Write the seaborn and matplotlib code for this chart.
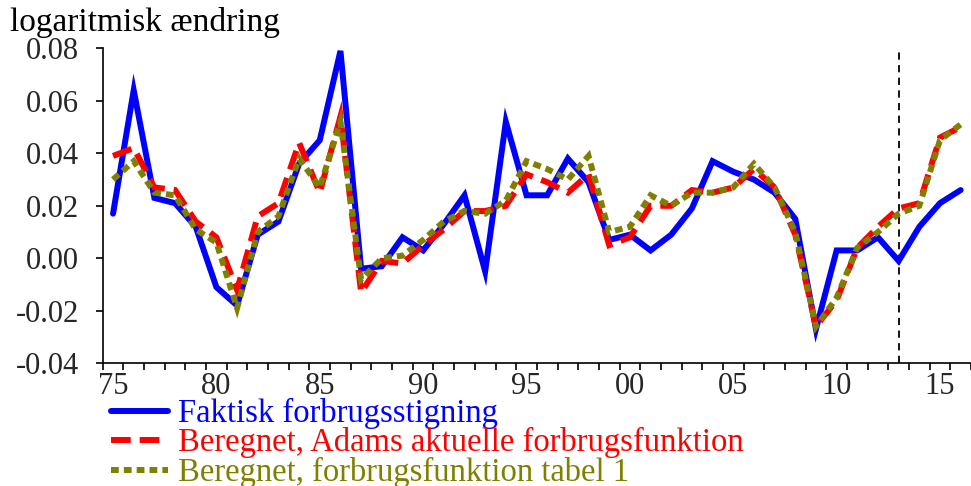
import numpy as np
import pandas as pd
import matplotlib
matplotlib.use("Agg")
import matplotlib.pyplot as plt
import seaborn as sns

years = list(range(1975, 2017))

faktisk = [0.017, 0.064, 0.023, 0.021, 0.012, -0.011, -0.018, 0.009, 0.014, 0.036,
           0.045, 0.079, -0.004, -0.003, 0.008, 0.003, 0.013, 0.024, -0.005, 0.052,
           0.024, 0.024, 0.038, 0.029, 0.007, 0.009, 0.003, 0.009, 0.019, 0.037,
           0.033, 0.030, 0.025, 0.015, -0.027, 0.003, 0.003, 0.008, -0.001, 0.012,
           0.021, 0.026]

adams = [0.039, 0.042, 0.027, 0.026, 0.014, 0.008, -0.012, 0.016, 0.021, 0.044,
         0.025, 0.054, -0.013, -0.001, -0.002, 0.005, 0.011, 0.018, 0.018, 0.020,
         0.032, 0.029, 0.025, 0.032, 0.005, 0.008, 0.020, 0.020, 0.026, 0.025,
         0.027, 0.034, 0.027, 0.009, -0.026, -0.016, 0.004, 0.012, 0.019, 0.021,
         0.046, 0.050]

tabel1 = [0.030, 0.037, 0.025, 0.024, 0.011, 0.006, -0.019, 0.010, 0.016, 0.038,
          0.027, 0.052, -0.008, 0.000, 0.001, 0.007, 0.014, 0.018, 0.017, 0.022,
          0.037, 0.034, 0.030, 0.039, 0.010, 0.012, 0.024, 0.020, 0.025, 0.025,
          0.027, 0.036, 0.027, 0.010, -0.026, -0.015, 0.004, 0.010, 0.017, 0.020,
          0.045, 0.051]

series_labels = ["Faktisk forbrugsstigning",
                 "Beregnet, Adams aktuelle forbrugsfunktion",
                 "Beregnet, forbrugsfunktion tabel 1"]
series_colors = ["#0000FF", "#FF0000", "#808000"]

ytick_vals = [-0.04, -0.02, 0.00, 0.02, 0.04, 0.06, 0.08]
ytick_labels = ["-0.04", "-0.02", "0.00", "0.02", "0.04", "0.06", "0.08"]
xtick_vals = [1975, 1980, 1985, 1990, 1995, 2000, 2005, 2010, 2015]
xtick_labels = ["75", "80", "85", "90", "95", "00", "05", "10", "15"]
forecast_start = 2013

df = pd.DataFrame({"year": years, "faktisk": faktisk, "adams": adams, "tabel1": tabel1})

sns.set_theme(style="white")
plt.rcParams["font.family"] = ["Liberation Serif", "DejaVu Serif"]
FS_TICK = 22
FS_TEXT = 23.5

fig = plt.figure(figsize=(9.71, 4.86), dpi=100)
ax = fig.add_axes([102.7 / 971, 122.7 / 486, 1 - 102.7 / 971, 315.0 / 486])

lw = 4.3
common = dict(ax=ax, legend=False, clip_on=False)
sns.lineplot(data=df, x="year", y="faktisk", color=series_colors[0], lw=lw,
             solid_joinstyle="miter", label=series_labels[0], zorder=3, **common)
sns.lineplot(data=df, x="year", y="adams", color=series_colors[1], lw=lw,
             linestyle=(0, (3.3, 1.5)), dash_joinstyle="miter", dash_capstyle="butt",
             label=series_labels[1], zorder=4, **common)
sns.lineplot(data=df, x="year", y="tabel1", color=series_colors[2], lw=lw,
             linestyle=(0, (1.3, 0.85)), dash_joinstyle="miter", dash_capstyle="butt",
             label=series_labels[2], zorder=5, **common)

ax.axvline(forecast_start, color="black", lw=1.3, linestyle=(0, (4, 3)), zorder=2)

ax.set_xlim(1974.5, 1974.5 + (971 - 102.7) / 20.92)
ax.set_ylim(-0.04, 0.08)

ax.set_xticks(xtick_vals)
ax.set_xticklabels(xtick_labels, fontsize=FS_TICK)
ax.set_xticks(np.arange(1974.5, 2017, 1.0), minor=True)
ax.tick_params(axis="x", which="major", length=0, pad=6)
ax.tick_params(axis="x", which="minor", length=5, width=1.2, direction="out",
               color="black", bottom=True)
ax.set_yticks(ytick_vals)
ax.set_yticklabels(ytick_labels, fontsize=FS_TICK)
ax.tick_params(axis="y", which="major", length=5, width=1.2, direction="out",
               color="black", pad=12, left=True)

ax.set_xlabel("")
ax.set_ylabel("")
for side in ["top", "right"]:
    ax.spines[side].set_visible(False)
for side in ["left", "bottom"]:
    ax.spines[side].set_color("black")
    ax.spines[side].set_linewidth(1.2)
ax.grid(False)
ax.set_facecolor("white")

fig.text(10 / 971, 1 - 22 / 486, "logaritmisk ændring", fontsize=FS_TEXT + 0.5,
         ha="left", va="center", color="black")

handles = ax.get_lines()[:3]
leg = fig.legend(handles, series_labels, loc="upper left",
                 bbox_to_anchor=(111 / 971, 1 - 398 / 486), frameon=False,
                 fontsize=FS_TEXT, handlelength=1.75, handletextpad=0.3,
                 labelspacing=-0.05, borderpad=0, borderaxespad=0)
for txt, c in zip(leg.get_texts(), series_colors):
    txt.set_color(c)

fig.savefig("out.png", dpi=100, facecolor="white")
